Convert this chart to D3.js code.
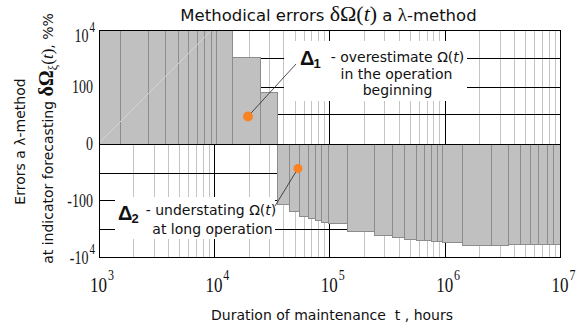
<!DOCTYPE html>
<html>
<head>
<meta charset="utf-8">
<script src="https://cdn.jsdelivr.net/npm/d3@7"></script>
<style>
  html, body { margin: 0; padding: 0; background: #fff; }
  svg { display: block; }
</style>
</head>
<body>
<svg id="chart" width="578" height="323"></svg>
<script>
// Step boundaries (hours) and the error level (%) held on each step
const overEdges  = [1000, 1536, 2685, 3770, 4885, 5966, 7139, 8206, 9440, 10430, 14350, 25100, 35200];
const overErrors = [10000, 10000, 10000, 10000, 10000, 10000, 10000, 10000, 10000, 10000, 1160, 62];

const underEdges  = [35200, 44750, 54630, 65380, 75160, 84720, 97450, 142100, 243600, 348800, 443000,
                     563000, 660300, 759500, 855900, 945500, 1409000, 2514000, 3530000, 4482000,
                     5473000, 6422000, 7684000, 8661000, 10000000];
const underErrors = [-140, -229, -344, -405, -516, -607, -658, -1260, -1610, -1900, -2230,
                     -2420, -2620, -2840, -2840, -3080, -3930, -3930, -3620, -3620,
                     -3480, -3480, -3620, -3620];

// Axis ticks
const xTicks      = [1e3, 1e4, 1e5, 1e6, 1e7];
const xTickBase   = ["10", "10", "10", "10", "10"];
const xTickExp    = ["3", "4", "5", "6", "7"];
const yTicks      = [1e4, 100, 0, -100, -1e4];
const yTickBase   = ["10", "100", "0", "-100", "-10"];
const yTickExp    = ["4", "", "", "", "4"];
const gridLevels  = [1000, 100, 10, -10, -100, -1000];

// Highlighted points of the two error zones
const markerT = [19750, 53560];
const markerV = [8, -6.6];

// Light guide line across the early-operation block
const guideT = [1000, 9600];
const guideV = [0, 10000];

const svg = d3.select("#chart");
const plotL = 98.5, plotR = 560, plotT = 30, plotB = 257;

const x = d3.scaleLog().domain([1e3, 1e7]).range([plotL, plotR]);
const y = d3.scaleSymlog().constant(1).domain([-1e4, 1e4]).range([plotB, plotT]);

// pixel snapping for crisp 1px strokes
const sx = v => Math.round(x(v)) + 0.5;
const sy = v => Math.round(y(v)) + 0.5;
const X0 = Math.round(plotL) + 0.5, X1 = Math.round(plotR) + 0.5;
const Y0 = Math.round(plotT) + 0.5, Y1 = Math.round(plotB) + 0.5;

const g = svg.append("g");

// minor vertical grid (2..9 within each decade)
const minor = [];
for (let d = 3; d < 7; d++) for (let k = 2; k <= 9; k++) minor.push(k * Math.pow(10, d));
g.append("g").selectAll("line").data(minor).join("line")
  .attr("x1", d => sx(d)).attr("x2", d => sx(d))
  .attr("y1", Y0).attr("y2", Y1)
  .attr("stroke", "#c4c4c4").attr("stroke-width", 1);

// decade lines
g.append("g").selectAll("line").data(xTicks.slice(1, -1)).join("line")
  .attr("x1", d => sx(d)).attr("x2", d => sx(d))
  .attr("y1", Y0).attr("y2", Y1)
  .attr("stroke", "#000").attr("stroke-width", 1);

// horizontal level lines
g.append("g").selectAll("line").data(gridLevels).join("line")
  .attr("x1", X0).attr("x2", X1)
  .attr("y1", d => sy(d)).attr("y2", d => sy(d))
  .attr("stroke", "#000").attr("stroke-width", 1);

// error steps
function steps(edges, vals) {
  return vals.map((v, i) => ({ t0: edges[i], t1: edges[i + 1], v }));
}
const barFill = "#c0c0c0", barStroke = "#8c8c8c";
function drawSteps(data) {
  g.append("g").selectAll("rect").data(data).join("rect")
    .attr("x", d => sx(d.t0))
    .attr("width", d => sx(d.t1) - sx(d.t0))
    .attr("y", d => Math.min(sy(d.v), sy(0)))
    .attr("height", d => Math.abs(sy(d.v) - sy(0)))
    .attr("fill", barFill)
    .attr("stroke", barStroke).attr("stroke-width", 1);
}
drawSteps(steps(overEdges, overErrors));
drawSteps(steps(underEdges, underErrors));

// faint guide across the first block
g.append("path")
  .datum(guideT.map((t, i) => [t, guideV[i]]))
  .attr("d", d3.line().x(d => x(d[0])).y(d => y(d[1])))
  .attr("fill", "none").attr("stroke", "#d6d6d6").attr("stroke-width", 1);

// zero line
g.append("line").attr("x1", X0).attr("x2", X1).attr("y1", sy(0)).attr("y2", sy(0))
  .attr("stroke", "#000").attr("stroke-width", 1);

// white backing of the annotations
g.append("rect").attr("x", 284).attr("y", 41).attr("width", 183).attr("height", 60).attr("fill", "#fff");
g.append("rect").attr("x", 115).attr("y", 197).attr("width", 160).attr("height", 42).attr("fill", "#fff");

// plot frame
g.append("rect").attr("x", X0).attr("y", Y0).attr("width", X1 - X0).attr("height", Y1 - Y0)
  .attr("fill", "none").attr("stroke", "#000").attr("stroke-width", 1);

const SANS = "'DejaVu Sans', Verdana, sans-serif";
const SERIF = "'Liberation Serif', 'Times New Roman', serif";
const BOLD = "'Liberation Sans', Arial, sans-serif";

// x tick labels
xTicks.forEach((t, i) => {
  const tg = svg.append("g").attr("transform", `translate(${x(t)},292) scale(1,1.2)`);
  tg.append("text").attr("text-anchor", "middle").attr("font-family", SERIF)
    .attr("font-size", 17).attr("fill", "#111").text(xTickBase[i]);
  tg.append("text").attr("x", 9.5).attr("y", -10).attr("font-family", SERIF)
    .attr("font-size", 12).attr("fill", "#111").text(xTickExp[i]);
});

// y tick labels
yTicks.forEach((v, i) => {
  const base = Math.max(y(v) + 6.5, 42);
  const hasExp = yTickExp[i] !== "";
  const tg = svg.append("g").attr("transform", `translate(${hasExp ? 88.5 : 93},${base}) scale(1,1.3)`);
  tg.append("text").attr("text-anchor", "end").attr("font-family", SERIF)
    .attr("font-size", 14).attr("fill", "#111").text(yTickBase[i]);
  if (hasExp) {
    tg.append("text").attr("x", 1).attr("y", -7.5).attr("font-family", SERIF)
      .attr("font-size", 11).attr("fill", "#111").text(yTickExp[i]);
  }
});

// title
const title = svg.append("text").attr("x", 328.5).attr("y", 21).attr("text-anchor", "middle")
  .attr("fill", "#111");
title.append("tspan").attr("font-family", SANS).attr("font-size", 16.5).text("Methodical errors ");
title.append("tspan").attr("font-family", SERIF).attr("font-size", 22).text("δΩ(");
title.append("tspan").attr("font-family", SERIF).attr("font-size", 22).attr("font-style", "italic").text("t");
title.append("tspan").attr("font-family", SERIF).attr("font-size", 22).text(")");
title.append("tspan").attr("font-family", SANS).attr("font-size", 16.5).text(" a ");
title.append("tspan").attr("font-family", SERIF).attr("font-size", 19).text("λ");
title.append("tspan").attr("font-family", SANS).attr("font-size", 16.5).text("-method");

// x axis title
svg.append("text").attr("x", 332).attr("y", 320).attr("text-anchor", "middle")
  .attr("font-family", SANS).attr("font-size", 14).attr("fill", "#111")
  .style("white-space", "pre")
  .text("Duration of maintenance  t , hours");

// y axis title (two lines)
const yt1 = svg.append("text").attr("transform", "translate(25,141.5) rotate(-90)")
  .attr("text-anchor", "middle").attr("fill", "#111");
yt1.append("tspan").attr("font-family", SANS).attr("font-size", 14).text("Errors a ");
yt1.append("tspan").attr("font-family", SANS).attr("font-size", 14).text("λ-method");

const yt2 = svg.append("text").attr("transform", "translate(53,138.5) rotate(-90)")
  .attr("text-anchor", "middle").attr("fill", "#111");
yt2.append("tspan").attr("font-family", SANS).attr("font-size", 14).text("at indicator forecasting ");
yt2.append("tspan").attr("font-family", SERIF).attr("font-size", 20).attr("font-weight", "bold").text("δΩ");
yt2.append("tspan").attr("font-family", SERIF).attr("font-size", 12).attr("dy", 4).text("ξ");
yt2.append("tspan").attr("font-family", SERIF).attr("font-size", 17).attr("dy", -4).text("(");
yt2.append("tspan").attr("font-family", SERIF).attr("font-size", 17).attr("font-style", "italic").text("t");
yt2.append("tspan").attr("font-family", SERIF).attr("font-size", 17).text(")");
yt2.append("tspan").attr("font-family", SANS).attr("font-size", 14).text(", %%");

// leader lines and markers
const leaderEnds = [[296, 64], [275, 206]];
markerT.forEach((t, i) => {
  svg.append("line").attr("x1", x(t)).attr("y1", y(markerV[i]))
    .attr("x2", leaderEnds[i][0]).attr("y2", leaderEnds[i][1])
    .attr("stroke", "#222").attr("stroke-width", 0.8);
});
svg.append("g").selectAll("circle").data(markerT).join("circle")
  .attr("cx", d => x(d)).attr("cy", (d, i) => y(markerV[i]))
  .attr("r", (d, i) => i === 0 ? 5 : 4.5)
  .attr("fill", "#f98322");

// zone labels
function delta(xp, yp, sub) {
  svg.append("text").attr("x", xp).attr("y", yp).attr("font-family", BOLD)
    .attr("font-weight", "bold").attr("font-size", 20).attr("fill", "#111").text("Δ");
  svg.append("text").attr("x", xp + 13.5).attr("y", yp + 3).attr("font-family", BOLD)
    .attr("font-weight", "bold").attr("font-size", 13).attr("fill", "#111").text(sub);
}
delta(300, 65, "1");
delta(118, 220, "2");

function noteLine(xc, yp, pre) {
  const t = svg.append("text").attr("x", xc).attr("y", yp).attr("text-anchor", "middle")
    .attr("font-family", SANS).attr("font-size", 14).attr("fill", "#111");
  t.append("tspan").text(pre);
  t.append("tspan").text("Ω(");
  t.append("tspan").attr("font-style", "italic").text("t");
  t.append("tspan").text(")");
}
noteLine(397.5, 62, "- overestimate ");
svg.append("text").attr("x", 396.5).attr("y", 79).attr("text-anchor", "middle")
  .attr("font-family", SANS).attr("font-size", 14).attr("fill", "#111").text("in the operation");
svg.append("text").attr("x", 397.5).attr("y", 95).attr("text-anchor", "middle")
  .attr("font-family", SANS).attr("font-size", 14).attr("fill", "#111").text("beginning");

noteLine(211, 215, "- understating ");
svg.append("text").attr("x", 212.5).attr("y", 234).attr("text-anchor", "middle")
  .attr("font-family", SANS).attr("font-size", 14).attr("fill", "#111").text("at long operation");
</script>
</body>
</html>
